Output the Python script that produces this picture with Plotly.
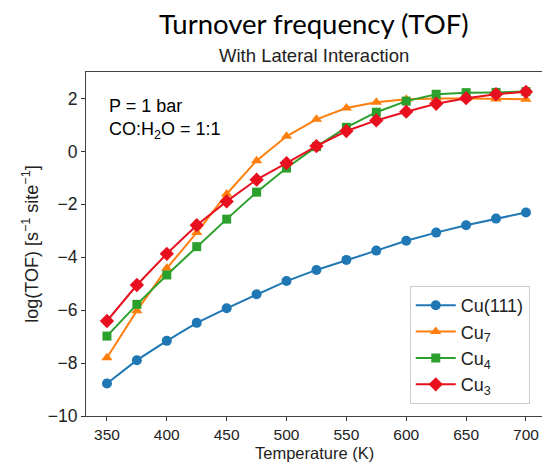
import plotly.graph_objects as go

temps = [350, 375, 400, 425, 450, 475, 500, 525, 550, 575, 600, 625, 650, 675, 700]
cu111 = [-8.77, -7.89, -7.16, -6.48, -5.93, -5.40, -4.90, -4.48, -4.10, -3.75, -3.38, -3.07, -2.79, -2.54, -2.31]
cu7 = [-7.80, -6.02, -4.42, -3.07, -1.61, -0.35, 0.57, 1.21, 1.64, 1.86, 1.97, 2.00, 2.00, 1.98, 1.97]
cu4 = [-6.98, -5.78, -4.67, -3.60, -2.56, -1.54, -0.63, 0.18, 0.91, 1.48, 1.90, 2.16, 2.22, 2.23, 2.26]
cu3 = [-6.41, -5.05, -3.87, -2.79, -1.89, -1.07, -0.44, 0.20, 0.77, 1.17, 1.50, 1.80, 2.01, 2.16, 2.25]

names = ["Cu(111)", "Cu<sub>7</sub>", "Cu<sub>4</sub>", "Cu<sub>3</sub>"]
series = [cu111, cu7, cu4, cu3]
colors = ["#1f77b4", "#ff7f0e", "#2ca02c", "#e8101f"]
symbols = ["circle", "triangle-up", "square", "diamond"]
sizes = [10, 10, 9, 11]

xticks = [350, 400, 450, 500, 550, 600, 650, 700]
yticks = [-10, -8, -6, -4, -2, 0, 2]

fig = go.Figure()
for n, s, c, m, sz in zip(names, series, colors, symbols, sizes):
    fig.add_trace(go.Scatter(
        x=temps, y=s, name=n, mode="lines+markers",
        line=dict(color=c, width=2),
        marker=dict(symbol=m, size=sz, color=c, line=dict(width=0)),
    ))

font_axis = "Liberation Sans, Arial, sans-serif"

fig.update_layout(
    width=542, height=463,
    margin=dict(l=86, r=0, t=72, b=47),
    paper_bgcolor="white", plot_bgcolor="white",
    font=dict(family=font_axis, size=17, color="#222"),
    showlegend=True,
    legend=dict(
        x=0.71, y=0.378, xanchor="left", yanchor="top",
        bgcolor="rgba(255,255,255,0.9)", bordercolor="#cccccc", borderwidth=1,
        font=dict(family=font_axis, size=18, color="#222"),
        tracegroupgap=0, itemwidth=40,
    ),
    xaxis=dict(
        range=[332.5, 713.4], tickvals=xticks, ticks="outside", ticklen=4,
        tickcolor="#333", showline=True, linecolor="#444", linewidth=1.2,
        mirror=True, showgrid=False, zeroline=False, automargin=False,
        tickfont=dict(size=15.5, color="#222"),
    ),
    yaxis=dict(
        range=[-10, 3], tickvals=yticks, ticks="outside", ticklen=4,
        tickcolor="#333", showline=True, linecolor="#444", linewidth=1.2,
        showgrid=False, zeroline=False,
        tickfont=dict(size=17.5, color="#222"),
        title=dict(text="log(TOF) [s<sup>\u22121</sup> site<sup>\u22121</sup>]", font=dict(size=18), standoff=4),
    ),
    annotations=[
        dict(text="Turnover frequency (TOF)", xref="paper", yref="paper",
             x=0.5, y=1, yshift=49, xanchor="center", yanchor="middle", showarrow=False,
             font=dict(family="Lato, sans-serif", size=27.5, color="black")),
        dict(text="With Lateral Interaction", xref="paper", yref="paper",
             x=0.5, y=1, yshift=17, xanchor="center", yanchor="middle", showarrow=False,
             font=dict(family=font_axis, size=18.5, color="#222")),
        dict(text="P = 1 bar<br>CO:H<sub>2</sub>O = 1:1", xref="paper", yref="paper",
             x=0.045, y=0.935, xanchor="left", yanchor="top", align="left", showarrow=False,
             font=dict(family=font_axis, size=18, color="black")),
        dict(text="Temperature (K)", xref="paper", yref="paper",
             x=0.5, y=0, yshift=-47, xanchor="center", yanchor="bottom", showarrow=False,
             borderpad=0,
             font=dict(family=font_axis, size=16.5, color="#222")),
    ],
)

fig.write_html("out.html")
